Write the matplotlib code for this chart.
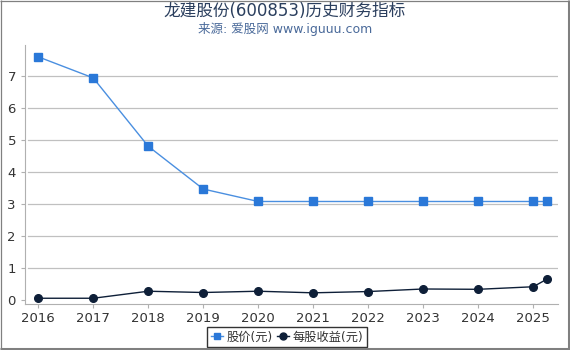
import matplotlib
matplotlib.use("Agg")
import matplotlib.pyplot as plt
from matplotlib.lines import Line2D

plt.rcParams['font.family'] = ['DejaVu Sans', 'Noto Sans CJK SC']

x_pos = [2016, 2017, 2018, 2019, 2020, 2021, 2022, 2023, 2024, 2025, 2025.25]
price = [7.60, 6.94, 4.80, 3.46, 3.07, 3.07, 3.07, 3.07, 3.07, 3.07, 3.07]
eps = [0.04, 0.04, 0.26, 0.22, 0.26, 0.21, 0.25, 0.33, 0.32, 0.40, 0.64]
year_ticks = [2016, 2017, 2018, 2019, 2020, 2021, 2022, 2023, 2024, 2025]
y_ticks = [0, 1, 2, 3, 4, 5, 6, 7]

title = "龙建股份(600853)历史财务指标"
subtitle = "来源: 爱股网 www.iguuu.com"
legend_labels = ["股价(元)", "每股收益(元)"]

fig = plt.figure(figsize=(5.7, 3.5), dpi=100)
ax = fig.add_axes([25/570, 46/350, 533/570, 259/350])

ax.plot(x_pos, price, color='#4a8fe0', lw=1.0, marker='s', ms=5.5,
        mfc='#2a78d8', mec='#2a78d8', zorder=3)
ax.plot(x_pos, eps, color='#0e1f38', lw=1.0, marker='o', ms=5.5,
        mfc='#0e1f38', mec='#0e1f38', zorder=4)

ax.set_xlim(2015.76, 2025.45)
ax.set_ylim(-0.14, 7.97)
ax.set_xticks(year_ticks)
ax.set_xticklabels([str(y) for y in year_ticks])
ax.set_yticks(y_ticks)
ax.set_yticklabels([str(v) for v in y_ticks])
for v in y_ticks[1:]:
    ax.axhline(v, color='#c0c0c0', lw=0.9, zorder=1, xmin=0.005)

for s in ['top', 'right']:
    ax.spines[s].set_visible(False)
ax.spines['left'].set_color('#b0b0b0')
ax.spines['bottom'].set_color('#b0b0b0')
ax.tick_params(axis='both', colors='#b0b0b0', labelcolor='#333333', labelsize=9.5, length=3, width=0.8)
ax.tick_params(axis='x', pad=3)

fig.text(0.5, 0.968, title, ha='center', va='center', fontsize=12, color='#2b3f5e')
fig.text(0.5, 0.918, subtitle, ha='center', va='center', fontsize=9, color='#4a6a9a')

handles = [
    Line2D([0], [0], color='#4a8fe0', lw=1.0, marker='s', ms=5, mfc='#2a78d8', mec='#2a78d8'),
    Line2D([0], [0], color='#0e1f38', lw=1.0, marker='o', ms=5, mfc='#0e1f38', mec='#0e1f38'),
]
leg = fig.legend(handles, legend_labels, loc='center', bbox_to_anchor=(287/570, 13/350),
                 ncol=2, frameon=True, fontsize=8.8, handlelength=1.0, handletextpad=0.3,
                 columnspacing=0.3, borderpad=0.3, fancybox=False, labelcolor='#333333')
leg.get_frame().set_edgecolor('black')
leg.get_frame().set_linewidth(1.0)

# figure frame: thin top/left, thicker right/bottom
frame_kw = dict(transform=fig.transFigure, color='#808080', zorder=10, solid_capstyle='butt')
fig.add_artist(Line2D([0, 1], [1 - 0.5/350, 1 - 0.5/350], lw=0.9, **frame_kw))
fig.add_artist(Line2D([0.5/570, 0.5/570], [0, 1], lw=0.9, **frame_kw))
fig.add_artist(Line2D([1 - 1.5/570, 1 - 1.5/570], [0, 1], lw=2.2, **frame_kw))
fig.add_artist(Line2D([0, 1], [1.5/350, 1.5/350], lw=2.2, **frame_kw))

fig.savefig('out.png', dpi=100)
